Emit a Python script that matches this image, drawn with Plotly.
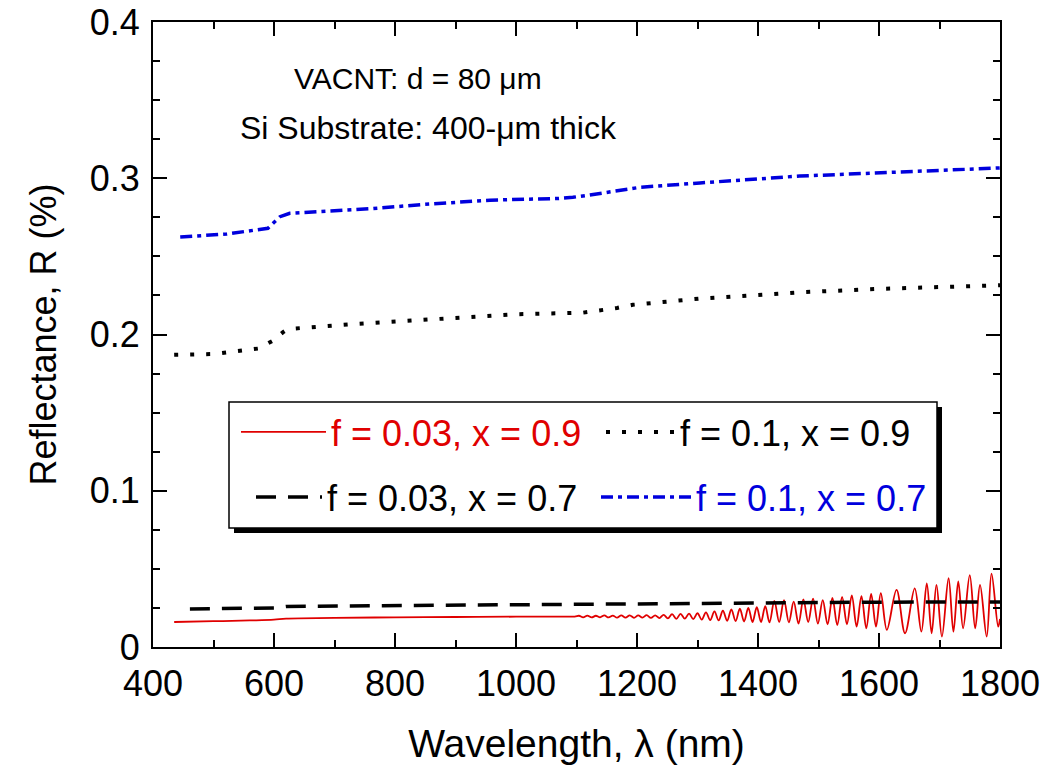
import plotly.graph_objects as go

# ---- data ----
red_wl = [435, 500, 560, 600, 620, 700, 800, 900, 1000, 1050, 1097,
          1104, 1111, 1118, 1125, 1132, 1139, 1146, 1153, 1160, 1167, 1174, 1181, 1188, 1195,
          1202, 1209, 1216, 1223, 1230, 1237, 1244, 1251, 1258, 1265, 1272, 1279, 1286, 1293,
          1300, 1307, 1314, 1321, 1328, 1335, 1342, 1349, 1356, 1363, 1370, 1377, 1384, 1391,
          1398, 1405, 1412, 1419, 1427, 1435, 1443, 1451, 1459, 1467, 1475, 1483, 1491, 1499,
          1507, 1515, 1523, 1531, 1539, 1547, 1555, 1563, 1571, 1579, 1587, 1595, 1603, 1613,
          1629, 1643, 1659, 1670, 1679, 1687, 1695, 1704, 1715, 1723, 1731, 1739, 1750, 1759,
          1767, 1778, 1786, 1797, 1800]
red_R = [0.0160, 0.0165, 0.0170, 0.0175, 0.0182, 0.0186, 0.0190, 0.0192, 0.0194, 0.0195, 0.0195,
         0.0200, 0.0190, 0.0201, 0.0189, 0.0200, 0.0190, 0.0202, 0.0189, 0.0201, 0.0188, 0.0202, 0.0188, 0.0203, 0.0187,
         0.0202, 0.0188, 0.0204, 0.0186, 0.0203, 0.0185, 0.0206, 0.0183, 0.0210, 0.0180, 0.0212, 0.0181, 0.0214, 0.0179,
         0.0216, 0.0175, 0.0222, 0.0172, 0.0228, 0.0170, 0.0232, 0.0168, 0.0240, 0.0165, 0.0245, 0.0163, 0.0250, 0.0160,
         0.0255, 0.0160, 0.0262, 0.0157, 0.0295, 0.0160, 0.0300, 0.0158, 0.0290, 0.0150, 0.0305, 0.0160, 0.0310, 0.0150,
         0.0300, 0.0145, 0.0315, 0.0140, 0.0320, 0.0145, 0.0330, 0.0130, 0.0325, 0.0120, 0.0340, 0.0130, 0.0345, 0.0110,
         0.0365, 0.0088, 0.0375, 0.0098, 0.0407, 0.0088, 0.0397, 0.0067, 0.0440, 0.0098, 0.0420, 0.0120, 0.0460, 0.0120,
         0.0397, 0.0067, 0.0470, 0.0130, 0.0180]

dot_wl = [435, 500, 574, 598, 615, 623, 731, 869, 1003, 1084, 1111, 1167, 1193, 1304, 1469, 1600, 1700, 1800]
dot_R = [0.187, 0.1875, 0.191, 0.196, 0.2015, 0.2035, 0.2067, 0.2100, 0.2130, 0.2137, 0.2140, 0.2170, 0.2190,
         0.2230, 0.2270, 0.2292, 0.2305, 0.2315]

dash_wl = [461, 600, 620, 800, 1000, 1100, 1200, 1400, 1600, 1800]
dash_R = [0.0243, 0.0250, 0.0260, 0.0265, 0.0270, 0.0272, 0.0278, 0.0284, 0.0287, 0.0288]

blue_wl = [445, 522, 590, 610, 626, 764, 846, 957, 1068, 1094, 1122, 1177, 1205, 1304, 1469, 1635, 1800]
blue_R = [0.2624, 0.2643, 0.2680, 0.2754, 0.2776, 0.2806, 0.2832, 0.2860, 0.2870, 0.2878, 0.2893, 0.2925,
          0.2942, 0.2970, 0.3014, 0.3040, 0.3066]

names = ["f = 0.03, x = 0.9", "f = 0.1, x = 0.9", "f = 0.03, x = 0.7", "f = 0.1, x = 0.7"]
x_ticks = [400, 600, 800, 1000, 1200, 1400, 1600, 1800]
y_ticks = [0, 0.1, 0.2, 0.3, 0.4]
y_tick_text = ["0", "0.1", "0.2", "0.3", "0.4"]

FONT = "Arial, Liberation Sans, sans-serif"

fig = go.Figure()
fig.add_trace(go.Scatter(x=red_wl, y=red_R, mode="lines", legend="legend", showlegend=True,
                         line=dict(color="#e00000", width=1.8, shape="spline", smoothing=1.0),
                         name="<span style='color:#e00000'>" + names[0] + "</span>"))
fig.add_trace(go.Scatter(x=dot_wl, y=dot_R, mode="lines", legend="legend2", showlegend=True,
                         line=dict(color="black", width=4, dash="4px,12px"),
                         name=names[1]))
fig.add_trace(go.Scatter(x=dash_wl, y=dash_R, mode="lines", legend="legend3", showlegend=True,
                         line=dict(color="black", width=3.5, dash="20px,12px"),
                         name=names[2]))
fig.add_trace(go.Scatter(x=blue_wl, y=blue_R, mode="lines", legend="legend4", showlegend=True,
                         line=dict(color="#0000dd", width=3.5, dash="12px,5px,4px,5px"),
                         name="<span style='color:#0000dd'>" + names[3] + "</span>"))

# legend box with drop shadow
L, R_, T, B = 229, 937, 402, 528
W, H = 1048, 765
ml, mr, mt, mb = 153, 48, 22, 118
pw, ph = W - ml - mr, H - mt - mb
def px2x(p): return (p - ml) / pw
def py2y(p): return (H - mb - p) / ph
fig.add_shape(type="rect", xref="paper", yref="paper", layer="above",
              x0=px2x(L + 5), x1=px2x(R_ + 5), y0=py2y(B + 5), y1=py2y(T + 5),
              fillcolor="black", line=dict(width=0))
fig.add_shape(type="rect", xref="paper", yref="paper", layer="above",
              x0=px2x(L), x1=px2x(R_), y0=py2y(B), y1=py2y(T),
              fillcolor="white", line=dict(color="black", width=1.5))

fig.add_annotation(text="VACNT: d = 80 μm", xref="paper", yref="paper",
                   x=px2x(418), y=py2y(78), showarrow=False, xanchor="center", yanchor="middle",
                   font=dict(size=30, color="black", family=FONT))
fig.add_annotation(text="Si Substrate: 400-μm thick", xref="paper", yref="paper",
                   x=px2x(428), y=py2y(128), showarrow=False, xanchor="center", yanchor="middle",
                   font=dict(size=32, color="black", family=FONT))

axis_common = dict(showline=True, linecolor="black", linewidth=2, mirror="allticks",
                   ticks="inside", ticklen=14, tickwidth=2, tickcolor="black",
                   showgrid=False, zeroline=False, automargin=False,
                   tickfont=dict(size=36, color="black", family=FONT))

fig.update_xaxes(range=[400, 1800], tickvals=x_ticks, ticktext=[str(v) for v in x_ticks],
                 ticklabelstandoff=4,
                 title=dict(text="Wavelength, λ (nm)", font=dict(size=39, color="black", family=FONT), standoff=27),
                 minor=dict(dtick=100, ticks="inside", ticklen=7, tickwidth=2, tickcolor="black"),
                 **axis_common)
fig.update_yaxes(range=[0, 0.4], tickvals=y_ticks, ticktext=y_tick_text,
                 ticklabelstandoff=4,
                 title=dict(text="Reflectance, R (%)", font=dict(size=36, color="black", family=FONT), standoff=22),
                 minor=dict(dtick=0.025, ticks="inside", ticklen=7, tickwidth=2, tickcolor="black"),
                 **axis_common)

leg_common = dict(orientation="h", xanchor="left", yanchor="middle",
                  bgcolor="rgba(0,0,0,0)", borderwidth=0, visible=True,
                  font=dict(size=36, color="black", family=FONT))
fig.update_layout(
    width=W, height=H,
    margin=dict(l=ml, r=mr, t=mt, b=mb),
    plot_bgcolor="white", paper_bgcolor="white",
    font=dict(family=FONT, color="black"),
    showlegend=True,
    legend=dict(x=px2x(236), y=py2y(432), itemwidth=85, **leg_common),
    legend2=dict(x=px2x(601), y=py2y(432), itemwidth=69, **leg_common),
    legend3=dict(x=px2x(251), y=py2y(497), itemwidth=66, **leg_common),
    legend4=dict(x=px2x(596), y=py2y(497), itemwidth=90, **leg_common),
)

fig.write_html("out.html")
